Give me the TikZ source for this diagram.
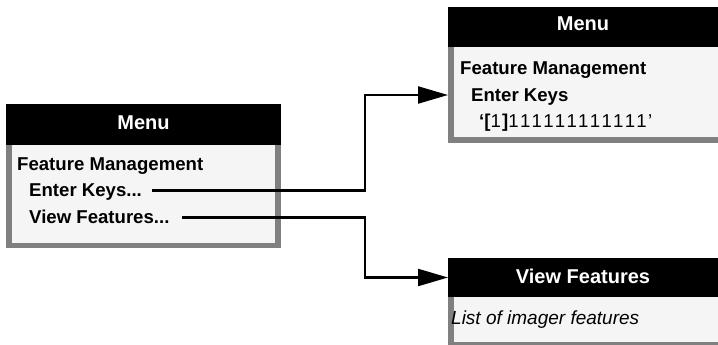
\documentclass[tikz,border=0pt]{standalone}
\usepackage{fontspec}
\setmainfont{Liberation Sans}
\usetikzlibrary{arrows.meta}
\definecolor{bordergray}{HTML}{808080}
\definecolor{bodyfill}{HTML}{F5F5F5}
\newcommand\wideone{1\kern1.3pt}
\tikzset{
  hdrtext/.style={text=white, font=\fontsize{20}{24}\selectfont\bfseries, inner sep=0pt, anchor=base},
  itemtext/.style={text=black, font=\fontsize{18.6}{22}\selectfont\bfseries, inner sep=0pt, anchor=base west},
  plaintext/.style={text=black, font=\fontsize{18.6}{22}\selectfont, inner sep=0pt, anchor=base west},
  ittext/.style={text=black, font=\fontsize{19}{23}\selectfont\itshape, inner sep=0pt, anchor=base west},
  conn/.style={draw=black, line width=2.2pt, -{Triangle[length=30pt,width=17pt]}},
}
\begin{document}
\begin{tikzpicture}[x=1pt,y=-1pt]
\useasboundingbox[fill=white] (0,0) rectangle (718,345);
% ---- left box
\fill[bordergray] (6,145) rectangle (281,248);
\fill[bodyfill] (12,145) rectangle (275,243);
\fill[black] (6,104) rectangle (281,145);
\node[hdrtext] (h1) at (143.5,129) {Menu};
\node[itemtext] (fm1) at (17,170) {Feature Management};
\node[itemtext] (ek1) at (29,196.5) {Enter Keys...};
\node[itemtext] (vf1) at (29,223) {View Features...};
% ---- upper right box
\fill[bordergray] (448,47) rectangle (724,143);
\fill[bodyfill] (454,47) rectangle (718,137);
\fill[black] (448,7) rectangle (724,47);
\coordinate (b2w) at (448,47);
\node[hdrtext] (h2) at (583,30.5) {Menu};
\node[itemtext] (fm2) at (460,75) {Feature Management};
\node[itemtext] (ek2) at (471,101.5) {Enter Keys};
\node[plaintext] (key2) at (479,128) {{\bfseries ‘[}\wideone{\bfseries ]}\wideone\wideone\wideone\wideone\wideone\wideone\wideone\wideone\wideone\wideone\wideone\wideone’};
% ---- lower right box
\fill[bordergray] (448,297) rectangle (724,350);
\fill[bodyfill] (454,297) rectangle (718,342);
\fill[black] (448,258) rectangle (724,297);
\coordinate (h3w) at (448,277.5);
\node[hdrtext] (h3) at (583,283) {View Features};
\node[ittext] (lst) at (451,324) {List of imager features};
% ---- connectors
\coordinate (j) at (365,0);
\draw[conn] ([xshift=10pt,yshift=6pt]ek1.base east) -| (j |- 0,95) -- (b2w |- 0,95);
\draw[conn] ([xshift=12pt,yshift=5.5pt]vf1.base east) -| (j |- h3w) -- (h3w);
\end{tikzpicture}
\end{document}
